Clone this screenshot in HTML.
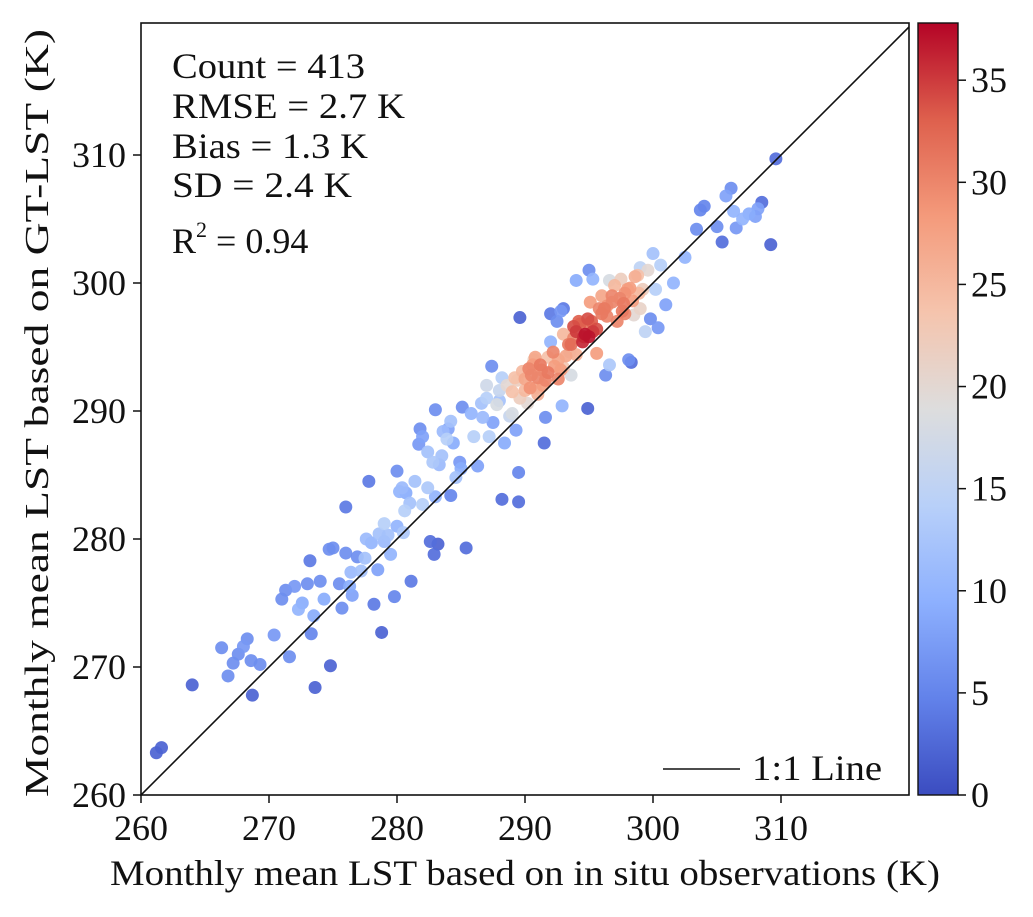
<!DOCTYPE html>
<html><head><meta charset="utf-8"><style>
body{margin:0;background:#fff}
svg text{font-family:"Liberation Serif",serif;fill:#111}
</style></head><body>
<svg id="chart" width="1033" height="912" xmlns="http://www.w3.org/2000/svg">
<defs>
<linearGradient id="cw" x1="0" y1="1" x2="0" y2="0">
<stop offset="0" stop-color="rgb(59,76,192)"/>
<stop offset="0.125" stop-color="rgb(98,130,234)"/>
<stop offset="0.25" stop-color="rgb(141,176,254)"/>
<stop offset="0.375" stop-color="rgb(184,208,249)"/>
<stop offset="0.5" stop-color="rgb(221,221,221)"/>
<stop offset="0.625" stop-color="rgb(245,196,173)"/>
<stop offset="0.75" stop-color="rgb(244,154,123)"/>
<stop offset="0.875" stop-color="rgb(222,96,77)"/>
<stop offset="1" stop-color="rgb(180,4,38)"/>
</linearGradient>
<clipPath id="pc"><rect x="141" y="23" width="768" height="772"/></clipPath>
</defs>
<g id="points" clip-path="url(#pc)"></g>
<line x1="141" y1="795" x2="909" y2="27" stroke="#111" stroke-width="1.6" clip-path="url(#pc)"/>
<rect x="141" y="23" width="768" height="772" fill="none" stroke="#111" stroke-width="1.6"/>
<g id="xt"></g>
<g id="yt"></g>
<text x="110" y="885" font-size="36" textLength="830" lengthAdjust="spacingAndGlyphs">Monthly mean LST based on in situ observations (K)</text>
<text transform="translate(48,797) rotate(-90)" font-size="34" textLength="768" lengthAdjust="spacingAndGlyphs">Monthly mean LST based on GT-LST (K)</text>
<g font-size="36">
<text x="172" y="78" textLength="193" lengthAdjust="spacingAndGlyphs">Count = 413</text>
<text x="172" y="118" textLength="233" lengthAdjust="spacingAndGlyphs">RMSE = 2.7 K</text>
<text x="172" y="158" textLength="196" lengthAdjust="spacingAndGlyphs">Bias = 1.3 K</text>
<text x="172" y="197" textLength="180" lengthAdjust="spacingAndGlyphs">SD = 2.4 K</text>
<text x="172" y="253">R<tspan font-size="22" dy="-16">2</tspan><tspan dy="16"> = 0.94</tspan></text>
</g>
<g>
<line x1="663" y1="769" x2="740" y2="769" stroke="#111" stroke-width="1.6"/>
<text x="752" y="780" font-size="36" textLength="130" lengthAdjust="spacingAndGlyphs">1:1 Line</text>
</g>
<rect x="918" y="23" width="40" height="772" fill="url(#cw)" stroke="#111" stroke-width="1.4"/>
<g id="ct"></g>
</svg>
<script>
const xs=[261.2,261.6,264,266.3,266.8,267.2,267.6,268,268.3,268.6,
268.7,269.3,270.4,271.3,271,271.6,272,272.3,272.6,273,
273.2,273.3,273.5,273.6,274,274.3,274.7,275,274.8,275.5,
275.7,276,276.3,276,276.5,276.9,277.2,277.5,277.8,278,
278.2,278.5,278.8,279,279.3,279.5,279.8,280,280.2,280,
280.5,280.7,281,281.1,281.4,281.8,282,282.4,282.6,282.9,
283.2,283,283,283.3,283.5,283.9,284,284.2,284.4,284.9,
285.1,285.4,285,282,281.7,282.4,279,278.6,280.6,284.6,
286,286.3,286.7,287,287.2,287.5,287.4,287.8,288,288.2,
288.4,288.6,289,289,289.3,289.5,289.5,289.8,290,290.3,
290.5,290.7,291,291,291.3,291.5,291.6,291.8,292,292.3,
292.6,292.5,292.9,293,293.2,293.5,293.6,293.8,294,294.3,
294.5,294.7,294.9,295,295.3,294.9,295.1,295.3,295.6,295.8,
296,296.3,296.4,296.6,296.8,297,297.2,297.5,297.7,298,
298.1,298.3,298.5,298.6,299,299.2,299.4,299.8,300,300.2,
300.4,301,301.6,302.5,303.4,303.7,304,305,305.4,305.7,
306.1,306.3,306.5,307,307.5,308,308.5,309.2,309.6,308.2,
293,292.8,295,294,292,289.6,288.8,290.2,290.8,291.4,
292.2,293.4,294.2,295.6,296.2,297.4,298.2,299.6,300.6,288,
289.4,290.6,293.8,296,297.8,298.8,286.6,285.8,284.2,291.2,
291.8,292.6,294.6,295.2,296.8,297.6,298.4,289.6,290,293,
294,296.6,299,288.2,287,283.6,282.8,280.4,277.6,276.4,
290.4,291.6,292.8,293.6,295,296.4,297.8,298.9,289.2,290.8];
const ys=[263.3,263.7,268.6,271.5,269.3,270.3,271,271.6,272.2,270.5,
267.8,270.2,272.5,276,275.3,270.8,276.3,274.5,275,276.5,
278.3,272.6,274,268.4,276.7,275.3,279.2,279.3,270.1,276.5,
274.6,278.9,276.3,282.5,275.6,278.6,277.5,278.5,284.5,279.7,
274.9,277.6,272.7,279.8,280.3,278.8,275.5,281,283.7,285.3,
280.5,283.6,282.8,276.7,284.5,288.6,282.7,284,279.8,278.8,
279.6,283.3,290.1,285.8,286.5,287.8,288.6,283.4,287.5,286,
290.3,279.3,285.5,288,287.4,286.8,281.2,280.4,282.2,284.8,
288,285.7,289.5,291,288,289.1,293.5,290.5,290.8,283.1,
287.5,292,289.8,291.5,288.5,285.2,282.9,293.1,292.5,293.3,
292.8,294,292.6,291.3,293.2,287.5,289.5,294.2,295.4,293.5,
292.5,297,290.4,296,294.3,294.6,292.8,295.7,296.2,296.8,
295.4,296,297.2,295.8,296.2,290.2,298.5,300.3,294.5,298,
299,292.8,297.4,293.6,298.5,299.8,297,300.3,298.4,299.5,
294,293.8,297.5,300.5,301.2,299.5,296.2,297.2,302.3,299.5,
296.5,298.3,300,302,304.2,305.7,306,304.4,303.2,306.8,
307.4,305.6,304.3,305,305.4,305.2,306.3,303,309.7,305.8,
298,297.8,301,300.2,297.6,297.3,289.6,290.6,291.8,292,
294.6,295.2,297,296.4,298,298.8,299.6,301,301.4,291.6,
292.4,293.6,296.6,297.6,299.2,300.6,290.6,289.8,289.2,293.6,
293,294,295.8,297,299,297.8,298.6,291,291.6,293.4,
294.4,300.2,298,292.6,292,288.4,286,284,280,277.4,
291.8,292.4,293.2,295.2,296.8,298.2,297.6,299.2,292.6,294.2];
const cs=[2,2,2,6,6,6,6,7,6,6,
2,6,7,6,6,6,7,10,9,6,
4,5,9,2,6,9,6,6,2,6,
6,6,9,4,8,6,12,12,4,10,
4,8,2,11,12,10,5,10,10,6,
13,9,12,4,12,6,14,13,3,3,
2,10,6,11,12,14,8,5,9,7,
6,3,9,8,7,12,14,12,14,12,
14,8,11,14,14,8,6,18,12,3,
9,20,18,24,8,5,3,25,27,30,
30,22,30,26,29,3,6,24,10,28,
30,6,10,25,27,20,18,30,35,33,
36,37,34,37,35,2,28,10,28,30,
27,6,30,13,30,25,30,22,31,28,
6,3,20,26,15,22,15,6,12,14,
7,8,10,10,6,5,5,6,3,8,
6,10,7,10,9,8,3,2,3,8,
4,7,6,9,4,2,16,20,26,28,
30,31,33,34,31,30,28,20,14,16,
22,28,34,31,29,24,12,10,12,31,
31,27,36,33,30,31,28,22,25,23,
26,18,21,14,17,11,13,11,11,11,
29,30,28,32,31,29,30,25,24,27];
const NS="http://www.w3.org/2000/svg";
const X0=141,Y0=795,K=12.8,CMAX=37.8;
const sx=v=>X0+(v-260)*K, sy=v=>Y0-(v-260)*K;
const stops=[[0,[59,76,192]],[.125,[98,130,234]],[.25,[141,176,254]],[.375,[184,208,249]],[.5,[221,221,221]],[.625,[245,196,173]],[.75,[244,154,123]],[.875,[222,96,77]],[1,[180,4,38]]];
function cmap(v){let t=Math.max(0,Math.min(1,v/CMAX));for(let i=1;i<stops.length;i++){if(t<=stops[i][0]){const a=stops[i-1],b=stops[i],f=(t-a[0])/(b[0]-a[0]);return 'rgb('+a[1].map((c,j)=>Math.round(c+(b[1][j]-c)*f)).join(',')+')';}}return 'rgb(180,4,38)';}
const idx=xs.map((_,i)=>i).sort((a,b)=>cs[a]-cs[b]);
const pg=document.getElementById('points');
idx.forEach(i=>{const c=document.createElementNS(NS,'circle');


c.setAttribute('cx',sx(xs[i]));c.setAttribute('cy',sy(ys[i]));c.setAttribute('r',6.5);c.setAttribute('fill',cmap(cs[i]));c.setAttribute('fill-opacity','0.92');pg.appendChild(c);});
const ticks=[260,270,280,290,300,310];
const xt=document.getElementById('xt'),yt=document.getElementById('yt');
ticks.forEach(v=>{
let l=document.createElementNS(NS,'line');


l.setAttribute('x1',sx(v));l.setAttribute('x2',sx(v));l.setAttribute('y1',795);l.setAttribute('y2',803);l.setAttribute('stroke','#111');l.setAttribute('stroke-width','1.5');xt.appendChild(l);
let t=document.createElementNS(NS,'text');


t.setAttribute('x',sx(v));t.setAttribute('y',840);t.setAttribute('font-size','36');t.setAttribute('text-anchor','middle');t.textContent=v;xt.appendChild(t);
l=document.createElementNS(NS,'line');


l.setAttribute('x1',133);l.setAttribute('x2',141);l.setAttribute('y1',sy(v));l.setAttribute('y2',sy(v));l.setAttribute('stroke','#111');l.setAttribute('stroke-width','1.5');yt.appendChild(l);
t=document.createElementNS(NS,'text');


t.setAttribute('x',126);t.setAttribute('y',sy(v)+12);t.setAttribute('font-size','36');t.setAttribute('text-anchor','end');t.textContent=v;yt.appendChild(t);
});
const cticks=[0,5,10,15,20,25,30,35];
const ct=document.getElementById('ct');
cticks.forEach(v=>{const y=795-v*772/CMAX;
let l=document.createElementNS(NS,'line');


l.setAttribute('x1',958);l.setAttribute('x2',966);l.setAttribute('y1',y);l.setAttribute('y2',y);l.setAttribute('stroke','#111');l.setAttribute('stroke-width','1.5');ct.appendChild(l);
let t=document.createElementNS(NS,'text');


t.setAttribute('x',971);t.setAttribute('y',y+12);t.setAttribute('font-size','36');t.textContent=v;ct.appendChild(t);});
</script>
</body></html>
